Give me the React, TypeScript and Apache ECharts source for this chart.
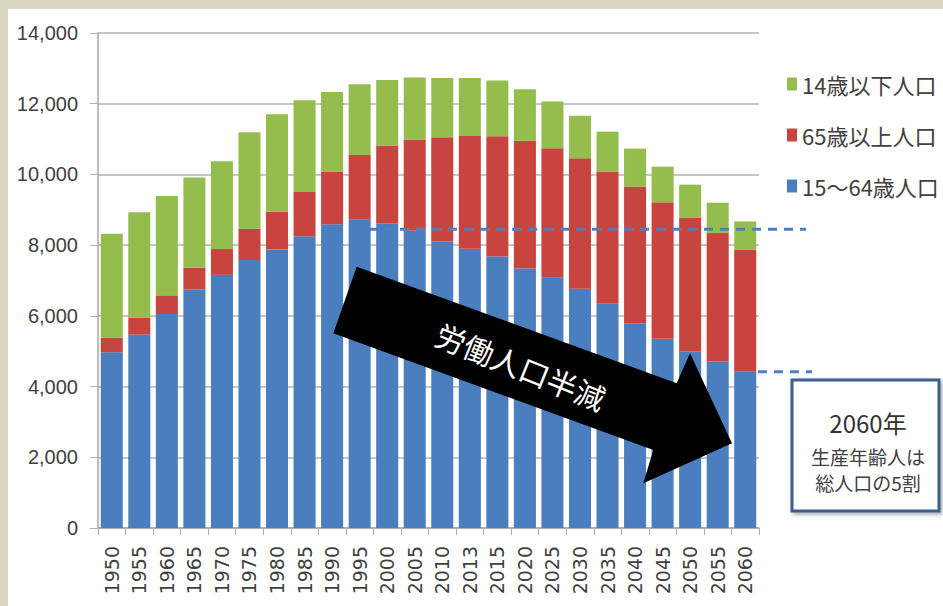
import React, { useEffect, useRef } from "react";
import * as echarts from "echarts";

const years = ["1950","1955","1960","1965","1970","1975","1980","1985","1990","1995","2000","2005","2010","2013","2015","2020","2025","2030","2035","2040","2045","2050","2055","2060"];
// 15〜64歳人口 (万人)
const working = [4970,5470,6050,6740,7160,7580,7880,8250,8590,8720,8620,8410,8100,7900,7680,7340,7080,6770,6340,5790,5350,5000,4710,4420];
// 65歳以上人口
const elderly = [410,480,530,620,730,890,1070,1250,1490,1830,2200,2580,2950,3190,3400,3610,3660,3690,3740,3870,3860,3770,3630,3460];
// 14歳以下人口
const children = [2940,2980,2810,2550,2480,2720,2750,2600,2250,2000,1850,1750,1680,1640,1580,1460,1320,1200,1130,1070,1010,940,860,790];

const LABEL_CHILD = "14歳以下人口";
const LABEL_ELDER = "65歳以上人口";
const LABEL_WORK = "15～64歳人口";
const legendOrder = [LABEL_CHILD, LABEL_ELDER, LABEL_WORK];

const yMin = 0;
const yMax = 14000;
const yStep = 2000;

const dashLevelHigh = 8450;
const dashLevelLow = 4420;

const arrowText = "労働人口半減";
const boxLines = ["2060年", "生産年齢人は", "総人口の5割"];

const JP = "Noto Sans CJK JP";

export default function App() {
  const ref = useRef<HTMLDivElement>(null);
  useEffect(() => {
    const chart = echarts.init(ref.current!, null, { renderer: "svg" });
    const option: any = {
      animation: false,
      backgroundColor: "#ffffff",
      grid: { left: 90, right: 184, top: 24, bottom: 78 },
      legend: {
        orient: "vertical",
        left: 779,
        top: 64,
        padding: 0,
        itemWidth: 10,
        itemHeight: 13,
        itemGap: 29,
        icon: "rect",
        data: legendOrder,
        textStyle: { fontSize: 22, lineHeight: 22, color: "#404040", fontFamily: JP },
      },
      xAxis: {
        type: "category",
        data: years,
        axisLine: { lineStyle: { color: "#a6a6a6", width: 1.5 } },
        axisTick: { show: true, length: 7, lineStyle: { color: "#b0b0b0" } },
        axisLabel: {
          rotate: 90,
          interval: 0,
          fontSize: 19,
          fontFamily: "DejaVu Sans",
          color: "#404040",
          margin: 18,
        },
      },
      yAxis: {
        type: "value",
        min: yMin,
        max: yMax,
        interval: yStep,
        axisLine: { show: true, lineStyle: { color: "#a6a6a6", width: 1.5 } },
        axisTick: { show: true, length: 8, lineStyle: { color: "#b0b0b0" } },
        splitLine: { lineStyle: { color: "#c6c6c6", width: 2 } },
        axisLabel: {
          formatter: (v: number) => v.toLocaleString("en-US"),
          fontSize: 20,
          fontFamily: "Liberation Sans",
          color: "#404040",
          margin: 20,
        },
      },
      series: [
        { name: LABEL_WORK, type: "bar", stack: "total", data: working, barCategoryGap: "20%", itemStyle: { color: "#4a7ebf" } },
        { name: LABEL_ELDER, type: "bar", stack: "total", data: elderly, itemStyle: { color: "#c8443f" } },
        { name: LABEL_CHILD, type: "bar", stack: "total", data: children, itemStyle: { color: "#94bd4e" } },
      ],
    };
    chart.setOption(option);

    const yHigh = chart.convertToPixel({ yAxisIndex: 0 }, dashLevelHigh) as number;
    const yLow = chart.convertToPixel({ yAxisIndex: 0 }, dashLevelLow) as number;
    const dashStyle = { stroke: "#4f7fc0", lineWidth: 3, lineDash: [9, 7] };

    chart.setOption({
      graphic: [
        { type: "line", z: 100, shape: { x1: 360, y1: yHigh, x2: 798, y2: yHigh }, style: dashStyle },
        { type: "line", z: 100, shape: { x1: 750, y1: yLow, x2: 804, y2: yLow }, style: dashStyle },
        {
          type: "polygon",
          z: 100,
          shape: {
            points: [
              [348.7, 257.7],
              [668.7, 374.3],
              [682, 344.3],
              [724, 434.3],
              [635.3, 474.3],
              [645.3, 441],
              [325.3, 324.3],
            ],
          },
          style: { fill: "#000000" },
        },
        {
          type: "text",
          z: 101,
          x: 513,
          y: 357,
          rotation: (-22 * Math.PI) / 180,
          style: { text: arrowText, fill: "#ffffff", fontSize: 30, fontFamily: JP, align: "center", verticalAlign: "middle" },
        },
        {
          type: "rect",
          z: 100,
          shape: { x: 784, y: 371, width: 147, height: 131 },
          style: {
            fill: "#ffffff",
            stroke: "#3b5f8e",
            lineWidth: 3,
            shadowBlur: 4,
            shadowOffsetX: 2,
            shadowOffsetY: 2,
            shadowColor: "rgba(0,0,0,0.35)",
          },
        },
        {
          type: "text", z: 101, x: 860, y: 413,
          style: { text: boxLines[0], fill: "#333333", fontSize: 24, fontFamily: JP, align: "center", verticalAlign: "middle" },
        },
        {
          type: "text", z: 101, x: 860, y: 447,
          style: { text: boxLines[1], fill: "#404040", fontSize: 19, fontFamily: JP, align: "center", verticalAlign: "middle" },
        },
        {
          type: "text", z: 101, x: 860, y: 473,
          style: { text: boxLines[2], fill: "#404040", fontSize: 19, fontFamily: JP, align: "center", verticalAlign: "middle" },
        },
      ],
    });

    return () => chart.dispose();
  }, []);

  return (
    <div style={{ position: "fixed", left: 0, top: 0, width: 943, height: 606, background: "#dcd7c1", overflow: "hidden" }}>
      <div ref={ref} style={{ position: "absolute", left: 8, top: 9, width: 935, height: 597 }} />
    </div>
  );
}
